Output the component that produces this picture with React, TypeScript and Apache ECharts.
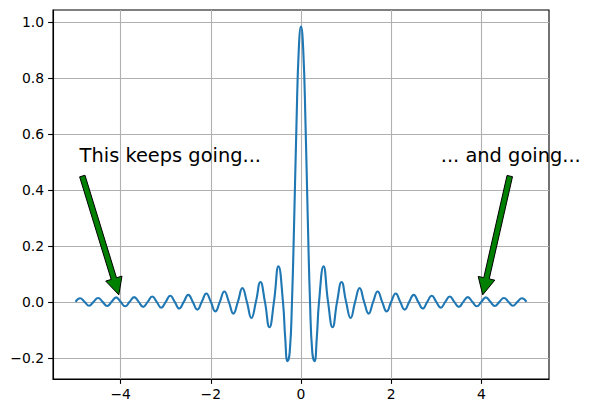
import React, { useEffect, useRef } from 'react';
import * as echarts from 'echarts';

// Curve samples (x, y)
const xValues = [
  -5.0, -4.9, -4.8, -4.7, -4.6, -4.5, -4.4, -4.3, -4.2, -4.1,
  -4.0, -3.9, -3.8, -3.7, -3.6, -3.5, -3.4, -3.3, -3.2, -3.1,
  -3.0, -2.9, -2.8, -2.7, -2.6, -2.5, -2.4, -2.3, -2.2, -2.1,
  -2.0, -1.9, -1.8, -1.7, -1.6, -1.5, -1.4, -1.3, -1.2, -1.1,
  -1.0, -0.9, -0.8, -0.7, -0.6, -0.5, -0.4, -0.35, -0.3, -0.25,
  -0.2, -0.15, -0.1, -0.05, 0.0, 0.05, 0.1, 0.15, 0.2, 0.25,
  0.3, 0.35, 0.4, 0.5, 0.6, 0.7, 0.8, 0.9, 1.0, 1.1,
  1.2, 1.3, 1.4, 1.5, 1.6, 1.7, 1.8, 1.9, 2.0, 2.1,
  2.2, 2.3, 2.4, 2.5, 2.6, 2.7, 2.8, 2.9, 3.0, 3.1,
  3.2, 3.3, 3.4, 3.5, 3.6, 3.7, 3.8, 3.9, 4.0, 4.1,
  4.2, 4.3, 4.4, 4.5, 4.6, 4.7, 4.8, 4.9, 5.0,
];
const yValues = [
  0, 0.013, 0, -0.014, 0, 0.014, 0, -0.015, 0, 0.016,
  0, -0.016, 0, 0.017, 0, -0.018, 0, 0.019, 0, -0.021,
  0, 0.022, 0, -0.024, 0, 0.025, 0, -0.028, 0, 0.030,
  0, -0.034, 0, 0.037, 0, -0.042, 0, 0.049, 0, -0.058,
  0, 0.071, 0, -0.091, 0, 0.127, 0, -0.129, -0.212, -0.180,
  0, 0.300, 0.637, 0.900, 0.985, 0.900, 0.637, 0.300, 0, -0.180,
  -0.212, -0.129, 0, 0.127, 0, -0.091, 0, 0.071, 0, -0.058,
  0, 0.049, 0, -0.042, 0, 0.037, 0, -0.034, 0, 0.030,
  0, -0.028, 0, 0.025, 0, -0.024, 0, 0.022, 0, -0.021,
  0, 0.019, 0, -0.018, 0, 0.017, 0, -0.016, 0, 0.016,
  0, -0.015, 0, 0.014, 0, -0.014, 0, 0.013, 0,
];

const xTicks = [-4, -2, 0, 2, 4];
const yTicks = [-0.2, 0, 0.2, 0.4, 0.6, 0.8, 1.0];
const xRange = [-5.5, 5.5];
const yRange = [-0.276, 1.044];

const annotationTexts = ['This keeps going...', '... and going...'];
const annotationTextPos = [[-4.91, 0.5], [3.1, 0.5]];
const arrowTails = [[-4.85, 0.45], [4.63, 0.45]];
const arrowTips = [[-4.04, 0.025], [4.03, 0.025]];

const minus = (s: string) => s.replace('-', '\u2212');

export default function App() {
  const ref = useRef<HTMLDivElement>(null);
  useEffect(() => {
    if (!ref.current) return;
    const chart = echarts.init(ref.current, null, { renderer: 'svg' });
    const font = 'DejaVu Sans';
    const annData = annotationTexts.map((_, i) => [
      arrowTails[i][0], arrowTails[i][1], arrowTips[i][0], arrowTips[i][1],
      annotationTextPos[i][0], annotationTextPos[i][1],
    ]);
    chart.setOption({
      animation: false,
      backgroundColor: '#ffffff',
      grid: {
        left: 53, top: 10, width: 496, height: 369, containLabel: false,
        show: true, borderColor: '#000', borderWidth: 1.1, backgroundColor: 'transparent',
      },
      xAxis: {
        type: 'value',
        min: xRange[0],
        max: xRange[1],
        axisLine: { show: true, onZero: false, lineStyle: { color: '#000', width: 1.1 } },
        axisTick: { show: true, length: 4.9, customValues: xTicks, lineStyle: { color: '#000', width: 1.1 } },
        axisLabel: {
          customValues: xTicks,
          color: '#000', fontSize: 13.9, fontFamily: font, margin: 8,
          formatter: (v: number) => minus(String(v)),
        },
        splitLine: { show: true, lineStyle: { color: '#b0b0b0', width: 1.1 } },
      },
      yAxis: {
        type: 'value',
        min: yRange[0],
        max: yRange[1],
        axisLine: { show: true, onZero: false, lineStyle: { color: '#000', width: 1.1 } },
        axisTick: { show: true, length: 4.9, customValues: yTicks, lineStyle: { color: '#000', width: 1.1 } },
        axisLabel: {
          customValues: yTicks,
          color: '#000', fontSize: 13.9, fontFamily: font, margin: 9,
          formatter: (v: number) => minus(v.toFixed(1)),
        },
        splitLine: { show: true, lineStyle: { color: '#b0b0b0', width: 1.1 } },
      },
      series: [
        {
          type: 'line',
          data: xValues.map((x, i) => [x, yValues[i]]),
          showSymbol: false,
          smooth: 0.5,
          lineStyle: { color: '#1f77b4', width: 2.1 },
          z: 3,
        },
        {
          type: 'custom',
          coordinateSystem: 'cartesian2d',
          data: annData,
          z: 5,
          clip: false,
          renderItem: (params: any, api: any) => {
            const tail = api.coord([api.value(0), api.value(1)]);
            const tip = api.coord([api.value(2), api.value(3)]);
            const tp = api.coord([api.value(4), api.value(5)]);
            const dx = tip[0] - tail[0];
            const dy = tip[1] - tail[1];
            const len = Math.sqrt(dx * dx + dy * dy);
            const ux = dx / len, uy = dy / len;
            const nx = -uy, ny = ux;
            const w = 2.8, hw = 8.5, hl = 17;
            const bx = tip[0] - ux * hl, by = tip[1] - uy * hl;
            const pts = [
              [tail[0] + nx * w, tail[1] + ny * w],
              [bx + nx * w, by + ny * w],
              [bx + nx * hw, by + ny * hw],
              [tip[0], tip[1]],
              [bx - nx * hw, by - ny * hw],
              [bx - nx * w, by - ny * w],
              [tail[0] - nx * w, tail[1] - ny * w],
            ];
            return {
              type: 'group',
              children: [
                {
                  type: 'polygon',
                  shape: { points: pts },
                  style: { fill: '#008000', stroke: '#000', lineWidth: 1 },
                },
                {
                  type: 'text',
                  x: tp[0],
                  y: tp[1] - 6.8,
                  style: {
                    text: annotationTexts[params.dataIndex],
                    fontSize: 19.4,
                    fontFamily: font,
                    fill: '#000',
                    align: 'left',
                    verticalAlign: 'middle',
                  },
                },
              ],
            };
          },
        },
      ],
    });
    return () => chart.dispose();
  }, []);
  return (
    <div
      ref={ref}
      style={{ position: 'fixed', left: 0, top: 0, width: 592, height: 413, background: '#fff' }}
    />
  );
}
